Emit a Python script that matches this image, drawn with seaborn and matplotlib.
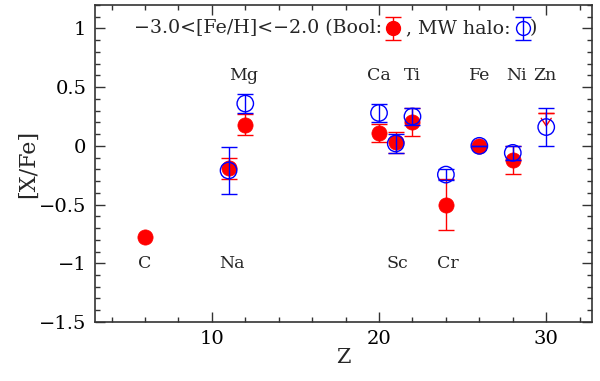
import numpy as np
import pandas as pd
import seaborn as sns
import matplotlib.pyplot as plt
from matplotlib.ticker import MultipleLocator

# Bool (red, filled) abundances
bool_elem = ['C', 'Na', 'Mg', 'Ca', 'Sc', 'Ti', 'Cr', 'Fe', 'Ni']
bool_z = [6, 11, 12, 20, 21, 22, 24, 26, 28]
bool_xfe = [-0.78, -0.19, 0.18, 0.11, 0.03, 0.20, -0.50, 0.0, -0.12]
bool_err = [0.0, 0.09, 0.09, 0.08, 0.09, 0.12, 0.22, 0.0, 0.12]

# Bool Zn upper limit
zn_z = [30]
zn_lim = [0.28]
zn_arrow = [0.12]

# MW halo (blue, open)
halo_z = [11, 12, 20, 21, 22, 24, 26, 28, 30]
halo_xfe = [-0.21, 0.36, 0.28, 0.02, 0.25, -0.245, 0.0, -0.06, 0.16]
halo_err = [0.20, 0.08, 0.08, 0.085, 0.07, 0.045, 0.0, 0.06, 0.16]

# element labels
lab_top = ['Mg', 'Ca', 'Ti', 'Fe', 'Ni', 'Zn']
lab_top_x = [11.9, 20.0, 22.0, 26.0, 28.2, 29.9]
lab_bot = ['C', 'Na', 'Sc', 'Cr']
lab_bot_x = [6.0, 11.2, 21.1, 24.1]

sns.set_theme(style='ticks')
plt.rcParams['font.family'] = ['DejaVu Serif']
plt.rcParams['mathtext.fontset'] = 'dejavuserif'

red = '#ff0000'
blue = '#0000ff'

fig = plt.figure(figsize=(6, 3.81), dpi=100)
ax = fig.add_axes([0.158, 0.155, 0.829, 0.832])

# red points (C has no error bar)
b_err = np.array(bool_err)
b_err = np.where(np.array(bool_elem) == 'C', np.nan, b_err)
ax.errorbar(bool_z, bool_xfe, yerr=b_err, fmt='none', ecolor=red,
            elinewidth=1, capsize=6, capthick=1, zorder=2)
df_b = pd.DataFrame({'Z': bool_z, 'XFe': bool_xfe})
sns.scatterplot(data=df_b, x='Z', y='XFe', ax=ax, color=red, s=120,
                edgecolor=red, linewidth=0.5, zorder=3)
# Zn upper limit: cap + downward arrow
ax.errorbar(zn_z, zn_lim, yerr=[0.0], fmt='none', ecolor=red, capsize=6,
            capthick=1, zorder=4)
for x, y, d in zip(zn_z, zn_lim, zn_arrow):
    ax.annotate('', xy=(x, y - d), xytext=(x, y),
                arrowprops=dict(arrowstyle='->,head_length=0.45,head_width=0.3',
                                color=red, lw=1, shrinkA=0, shrinkB=0), zorder=4)

# blue points
ax.errorbar(halo_z, halo_xfe, yerr=halo_err, fmt='none', ecolor=blue,
            elinewidth=1, capsize=6, capthick=1, zorder=5)
df_h = pd.DataFrame({'Z': halo_z, 'XFe': halo_xfe})
sns.scatterplot(data=df_h, x='Z', y='XFe', ax=ax, facecolor='none',
                edgecolor=blue, linewidth=1, s=140, zorder=6)

# element labels
for t, x in zip(lab_top, lab_top_x):
    ax.text(x, 0.6, t, ha='center', va='center', fontsize=12.5)
for t, x in zip(lab_bot, lab_bot_x):
    ax.text(x, -1.0, t, ha='center', va='center', fontsize=12.5)

# legend line
ax.text(20.2, 1.0, '\u22123.0<[Fe/H]<\u22122.0 (Bool:', ha='right', va='center', fontsize=13.7)
ax.errorbar([20.85], [1.0], yerr=[0.1], fmt='o', color=red, ms=10, capsize=6,
            elinewidth=1, zorder=3)
ax.text(21.6, 1.0, ', MW halo:', ha='left', va='center', fontsize=13.7)
ax.errorbar([28.6], [1.0], yerr=[0.1], fmt='o', mfc='none', mec=blue, color=blue,
            ms=10, capsize=6, elinewidth=1, zorder=3)
ax.text(29.0, 1.0, ')', ha='left', va='center', fontsize=13.7)

ax.set_xlim(3, 32.75)
ax.set_ylim(-1.5, 1.2)
ax.xaxis.set_major_locator(MultipleLocator(10))
ax.xaxis.set_minor_locator(MultipleLocator(2))
ax.yaxis.set_major_locator(MultipleLocator(0.5))
ax.yaxis.set_minor_locator(MultipleLocator(0.1))
ax.yaxis.set_major_formatter(plt.FuncFormatter(lambda v, p: f'{v:g}'.replace('-', '\u2212')))
ax.tick_params(which='both', direction='in', top=True, right=True, colors='#333333',
               labelcolor='black', labelsize=14)
ax.tick_params(which='major', length=7, width=1, pad=6)
ax.tick_params(which='minor', length=3.5, width=1)
for s in ax.spines.values():
    s.set_linewidth(1.2)
    s.set_color('#333333')
ax.set_xlabel('Z', fontsize=15, labelpad=0)
ax.set_ylabel('[X/Fe]', fontsize=16, labelpad=0)

fig.savefig('out.png', dpi=100)
